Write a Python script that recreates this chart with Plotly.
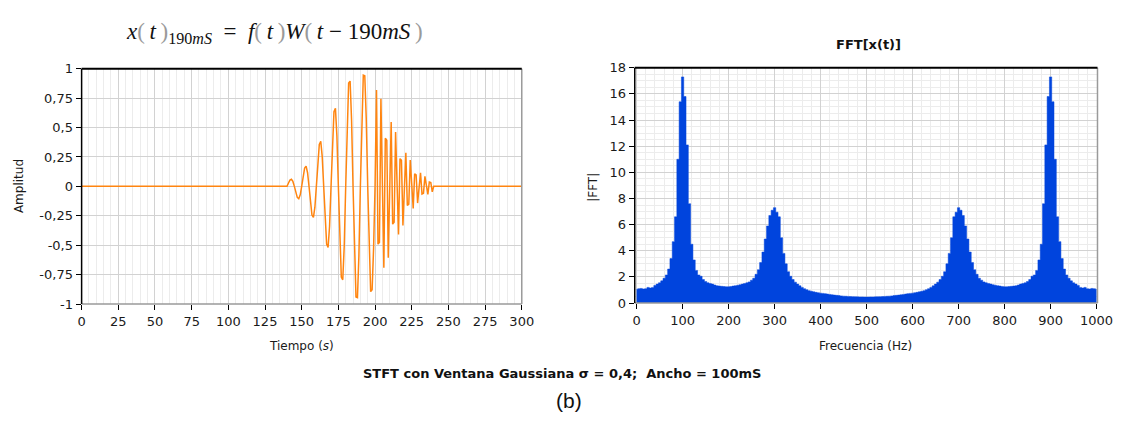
import plotly.graph_objects as go

# ---------------- data ----------------
# time signal (ms) : zero outside 140..240 ms
time_ms = [0] + list(range(140, 241)) + [300]
amplitude_core = [
    0.000, 0.029, 0.053, 0.060, 0.042, 0.000, -0.052, -0.094, -0.105, -0.072,   # 140-149
    0.000, 0.088, 0.156, 0.172, 0.116, 0.000, -0.139, -0.244, -0.264, -0.177,   # 150-159
    0.000, 0.206, 0.357, 0.382, 0.253, 0.000, -0.286, -0.491, -0.519, -0.339,   # 160-169
    0.000, 0.374, 0.634, 0.663, 0.427, 0.000, -0.460, -0.770, -0.794, -0.506,   # 170-179
    0.000, 0.531, 0.878, 0.895, 0.562, 0.000, -0.576, -0.940, -0.946, -0.587,   # 180-189
    0.000, 0.587, 0.946, 0.940, 0.576, 0.000, -0.562, -0.895, -0.878, -0.531,   # 190-199
    0.000, 0.818, -0.491, -0.476, 0.744, 0.000, -0.691, 0.410, 0.392, -0.606,   # 200-209
    0.000, 0.548, -0.321, -0.304, 0.463, 0.000, -0.409, 0.236, 0.221, -0.332,   # 210-219
    0.000, 0.286, -0.163, -0.151, 0.224, 0.000, -0.188, 0.106, 0.097, -0.142,   # 220-229
    0.000, 0.116, -0.065, -0.058, 0.085, 0.000, -0.068, 0.037, 0.033, -0.047,   # 230-239
    0.000,                                                                      # 240
]
amplitude = [0.0] + amplitude_core + [0.0]

# FFT magnitude, 5 Hz steps, 0..1000 Hz
freq_hz = list(range(0, 1001, 5))
fft_mag = [
    1.05, 1.10, 1.12, 1.08, 1.10, 1.20, 1.15, 1.20, 1.35, 1.45,   # 0-45
    1.55, 1.70, 1.90, 2.15, 2.60, 3.40, 4.70, 6.60, 11.0, 15.4,   # 50-95
    17.3, 15.8, 12.1, 7.60, 4.50, 3.30, 2.50, 2.15, 2.05, 1.80,   # 100-145
    1.65, 1.55, 1.50, 1.45, 1.38, 1.32, 1.30, 1.28, 1.26, 1.25,   # 150-195
    1.25, 1.27, 1.30, 1.33, 1.36, 1.40, 1.45, 1.50, 1.55, 1.62,   # 200-245
    1.75, 1.90, 2.20, 2.55, 3.10, 3.90, 4.90, 5.90, 6.70, 7.10,   # 250-295
    7.30, 6.95, 6.60, 5.00, 3.80, 3.00, 2.40, 2.05, 1.80, 1.60,   # 300-345
    1.45, 1.32, 1.20, 1.10, 1.02, 0.95, 0.90, 0.86, 0.82, 0.79,   # 350-395
    0.76, 0.74, 0.72, 0.69, 0.66, 0.63, 0.61, 0.59, 0.57, 0.55,   # 400-445
    0.53, 0.52, 0.51, 0.50, 0.49, 0.48, 0.48, 0.47, 0.47, 0.46,   # 450-495
    0.46, 0.46, 0.47, 0.47, 0.48, 0.48, 0.49, 0.50, 0.51, 0.52,   # 500-545
    0.53, 0.55, 0.57, 0.59, 0.61, 0.63, 0.66, 0.69, 0.72, 0.74,   # 550-595
    0.76, 0.79, 0.82, 0.86, 0.90, 0.95, 1.02, 1.10, 1.20, 1.32,   # 600-645
    1.45, 1.60, 1.80, 2.05, 2.40, 3.00, 3.80, 5.00, 6.60, 6.95,   # 650-695
    7.30, 7.10, 6.70, 5.90, 4.90, 3.90, 3.10, 2.55, 2.20, 1.90,   # 700-745
    1.75, 1.62, 1.55, 1.50, 1.45, 1.40, 1.36, 1.33, 1.30, 1.27,   # 750-795
    1.25, 1.25, 1.26, 1.28, 1.30, 1.32, 1.38, 1.45, 1.50, 1.55,   # 800-845
    1.65, 1.80, 2.05, 2.15, 2.50, 3.30, 4.50, 7.60, 12.1, 15.8,   # 850-895
    17.3, 15.4, 11.0, 6.60, 4.70, 3.40, 2.60, 2.15, 1.90, 1.70,   # 900-945
    1.55, 1.45, 1.35, 1.20, 1.15, 1.20, 1.10, 1.08, 1.12, 1.10,   # 950-995
    1.05,                                                         # 1000
]

left_xticks = list(range(0, 301, 25))
left_yticks = [-1, -0.75, -0.5, -0.25, 0, 0.25, 0.5, 0.75, 1]
left_yticklabels = ["-1", "-0,75", "-0,5", "-0,25", "0", "0,25", "0,5", "0,75", "1"]
right_xticks = list(range(0, 1001, 100))
right_yticks = list(range(0, 19, 2))

# ---------------- figure ----------------
W, H = 1141, 421
FONT = "DejaVu Sans"
TICKFONT = dict(family=FONT, size=13, color="#1a1a1a")
MAJ = "#d2d2d2"
MIN = "#ececec"

fig = go.Figure()
fig.add_trace(go.Scatter(x=time_ms, y=amplitude, mode="lines",
                         line=dict(color="#ff8510", width=1.5),
                         xaxis="x", yaxis="y", showlegend=False, hoverinfo="skip"))
fig.add_trace(go.Scatter(x=freq_hz, y=fft_mag, mode="lines",
                         line=dict(color="#0044dd", width=0.5, shape="hvh"),
                         fill="tozeroy", fillcolor="#0044dd",
                         xaxis="x2", yaxis="y2", showlegend=False, hoverinfo="skip"))

def px_x(p):
    return p / W

def px_y(p):
    return (H - p) / H

common_axis = dict(ticks="outside", ticklen=5, tickwidth=1, tickcolor="#000",
                   showgrid=True, gridcolor=MAJ, gridwidth=1, zeroline=False,
                   showline=False, tickfont=TICKFONT, fixedrange=True)

fig.update_layout(
    width=W, height=H,
    margin=dict(l=0, r=0, t=0, b=0),
    paper_bgcolor="white", plot_bgcolor="white",
    xaxis=dict(domain=[px_x(79), px_x(527)], range=[0, 300], anchor="y",
               tickmode="array", tickvals=left_xticks,
               minor=dict(dtick=5, showgrid=True, gridcolor=MIN, ticklen=0),
               **common_axis),
    yaxis=dict(domain=[px_y(308), px_y(64)], range=[-1, 1], anchor="x",
               tickmode="array", tickvals=left_yticks, ticktext=left_yticklabels,
               **common_axis),
    xaxis2=dict(domain=[px_x(642), px_x(1113)], range=[-4, 1002], anchor="y2",
                tickmode="array", tickvals=right_xticks,
                minor=dict(dtick=20, showgrid=True, gridcolor=MIN, ticklen=0),
                **common_axis),
    yaxis2=dict(domain=[px_y(307), px_y(63)], range=[0, 18], anchor="x2",
                tickmode="array", tickvals=right_yticks,
                minor=dict(dtick=0.5, showgrid=True, gridcolor=MIN, ticklen=0),
                **common_axis),
)

# frames: dark top/left, grey bottom/right
shapes = []
for xr, yr in (("x domain", "y domain"), ("x2 domain", "y2 domain")):
    shapes += [
        dict(type="line", xref=xr, yref=yr, x0=0, x1=1, y0=0, y1=0, line=dict(color="#9a9a9a", width=1.5)),
        dict(type="line", xref=xr, yref=yr, x0=1, x1=1, y0=0, y1=1, line=dict(color="#9a9a9a", width=1.5)),
        dict(type="line", xref=xr, yref=yr, x0=0, x1=1, y0=1, y1=1, line=dict(color="#000", width=2)),
        dict(type="line", xref=xr, yref=yr, x0=0, x1=0, y0=0, y1=1, line=dict(color="#000", width=1.5)),
    ]
fig.update_layout(shapes=shapes)

ts = "\u2009"
gp = '<span style="color:#9a9a9a">'
formula = ("<i>x</i>" + gp + "(</span>" + ts + "<i>t</i>" + ts + gp + ")</span>"
           "<sub>190<i>mS</i></sub>  =  <i>f</i>" + gp + "(</span>" + ts + "<i>t</i>" + ts + gp + ")</span>"
           "<i>W</i>" + gp + "(</span>" + ts + "<i>t</i> \u2212 190<i>mS</i>" + ts + gp + ")</span>")

ann = [
    dict(text=formula, x=px_x(275), y=px_y(27), font=dict(family="Liberation Serif", size=23, color="#111")),
    dict(text="<b>FFT[x(t)]</b>", x=px_x(880), y=px_y(39), font=dict(family=FONT, size=13, color="#111")),
    dict(text="Amplitud", x=px_x(16), y=px_y(186), textangle=-90, font=dict(family=FONT, size=12, color="#1a1a1a")),
    dict(text="|FFT|", x=px_x(600), y=px_y(187), textangle=-90, font=dict(family=FONT, size=12, color="#1a1a1a")),
    dict(text="Tiempo (<i>s</i>)", x=px_x(303), y=px_y(352), font=dict(family=FONT, size=12, color="#1a1a1a")),
    dict(text="Frecuencia (Hz)", x=px_x(877), y=px_y(352), font=dict(family=FONT, size=12, color="#1a1a1a")),
    dict(text="<b>STFT con Ventana Gaussiana \u03c3 = 0,4;  Ancho = 100mS</b>", x=px_x(568), y=px_y(380),
         font=dict(family=FONT, size=13, color="#111")),
    dict(text="(b)", x=px_x(575), y=px_y(408), font=dict(family="Liberation Sans", size=21, color="#111")),
]
for a in ann:
    a.update(xref="paper", yref="paper", showarrow=False, xanchor="center", yanchor="middle")
fig.update_layout(annotations=ann)

fig.write_html("out.html", config={"displayModeBar": False})
